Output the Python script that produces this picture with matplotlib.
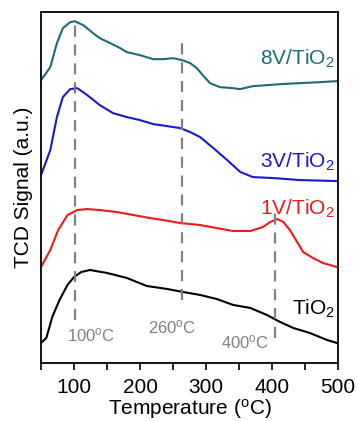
import matplotlib.pyplot as plt
from matplotlib.ticker import MultipleLocator

plt.rcParams["font.family"] = ["Liberation Sans", "DejaVu Sans"]
plt.rcParams["mathtext.fontset"] = "custom"
plt.rcParams["mathtext.rm"] = "Liberation Sans"
plt.rcParams["mathtext.it"] = "Liberation Sans:italic"
plt.rcParams["mathtext.bf"] = "Liberation Sans:bold"

# temperature (degC) and TCD signal (a.u.)
t_8v = [50, 64, 74, 83, 94, 101, 114, 129, 139, 155, 170, 180, 200, 220, 235, 250,
        264, 276, 286, 295, 306, 321, 341, 351, 371, 392, 412, 442, 473, 498]
s_8v = [283, 296, 320, 335, 341, 342, 338, 330, 325, 320, 315, 311, 308, 304, 304, 305,
        303, 300, 295, 288, 280, 276, 275, 274, 277, 278, 279, 280, 281, 282]

t_3v = [50, 64, 74, 83, 94, 105, 120, 139, 159, 180, 200, 220, 241, 261, 276, 291,
        311, 332, 352, 371, 402, 442, 498]
s_3v = [188, 213, 246, 266, 274, 275, 268, 258, 250, 246, 243, 239, 237, 235, 231, 226,
        215, 203, 191, 186, 185, 183, 182]

t_1v = [50, 64, 76, 90, 105, 120, 139, 165, 190, 215, 235, 261, 291, 316, 341, 367,
        386, 397, 408, 417, 427, 438, 447, 462, 477, 498]
s_1v = [96, 113, 133, 148, 153, 154, 153, 151, 148, 145, 143, 140, 138, 135, 132, 132,
        136, 141, 144, 141, 133, 121, 111, 105, 100, 96]

t_ti = [50, 58, 67, 78, 90, 100, 111, 124, 150, 180, 210, 241, 265, 291, 316, 341,
        367, 392, 412, 432, 457, 483, 498]
s_ti = [20, 25, 46, 63, 78, 86, 91, 93, 90, 85, 77, 74, 71, 68, 64, 58,
        55, 48, 41, 35, 30, 23, 20]

peak_t = [102, 264, 405]
peak_lo = [43, 63, 25]
peak_hi = [345, 326, 153]
peak_labels = ["100$^{\\mathrm{o}}$C", "260$^{\\mathrm{o}}$C", "400$^{\\mathrm{o}}$C"]
peak_label_x = [126, 248, 359]
peak_label_y = [28, 36, 21]

fig = plt.figure(figsize=(3.57, 4.21), dpi=100)
ax = fig.add_axes([0.115, 0.138, 0.832, 0.833])

ax.plot(t_8v, s_8v, color="#1c6b78", lw=1.5)
ax.plot(t_3v, s_3v, color="#1a1acc", lw=1.5)
ax.plot(t_1v, s_1v, color="#ee1a1a", lw=1.5)
ax.plot(t_ti, s_ti, color="black", lw=1.5)

for t, lo, hi in zip(peak_t, peak_lo, peak_hi):
    ax.plot([t, t], [lo, hi], color="#808080", lw=1.6, ls=(0, (5, 3.5)))

for x, y, s in zip(peak_label_x, peak_label_y, peak_labels):
    ax.text(x, y, s, color="#808080", fontsize=12, ha="center", va="center")

lab_kw = dict(fontsize=15, ha="right", va="center")
ax.text(495, 304, "8V/TiO$_2$", color="#1c6b78", **lab_kw)
ax.text(495, 201, "3V/TiO$_2$", color="#1a1acc", **lab_kw)
ax.text(495, 154, "1V/TiO$_2$", color="#ee1a1a", **lab_kw)
ax.text(495, 54, "TiO$_2$", color="black", **lab_kw)

ax.set_xlim(50, 500)
ax.set_ylim(0, 351)
ax.set_yticks([])
ax.xaxis.set_major_locator(MultipleLocator(100))
ax.xaxis.set_minor_locator(MultipleLocator(50))
ax.tick_params(axis="x", which="both", direction="out", length=5, width=1.2,
               labelsize=15, pad=6)
for sp in ax.spines.values():
    sp.set_linewidth(1.3)

ax.set_xlabel("Temperature ($^{\\mathrm{o}}$C)", fontsize=15, labelpad=0)
ax.set_ylabel("TCD Signal (a.u.)", fontsize=15, labelpad=6)

fig.savefig("out.png", dpi=100)
